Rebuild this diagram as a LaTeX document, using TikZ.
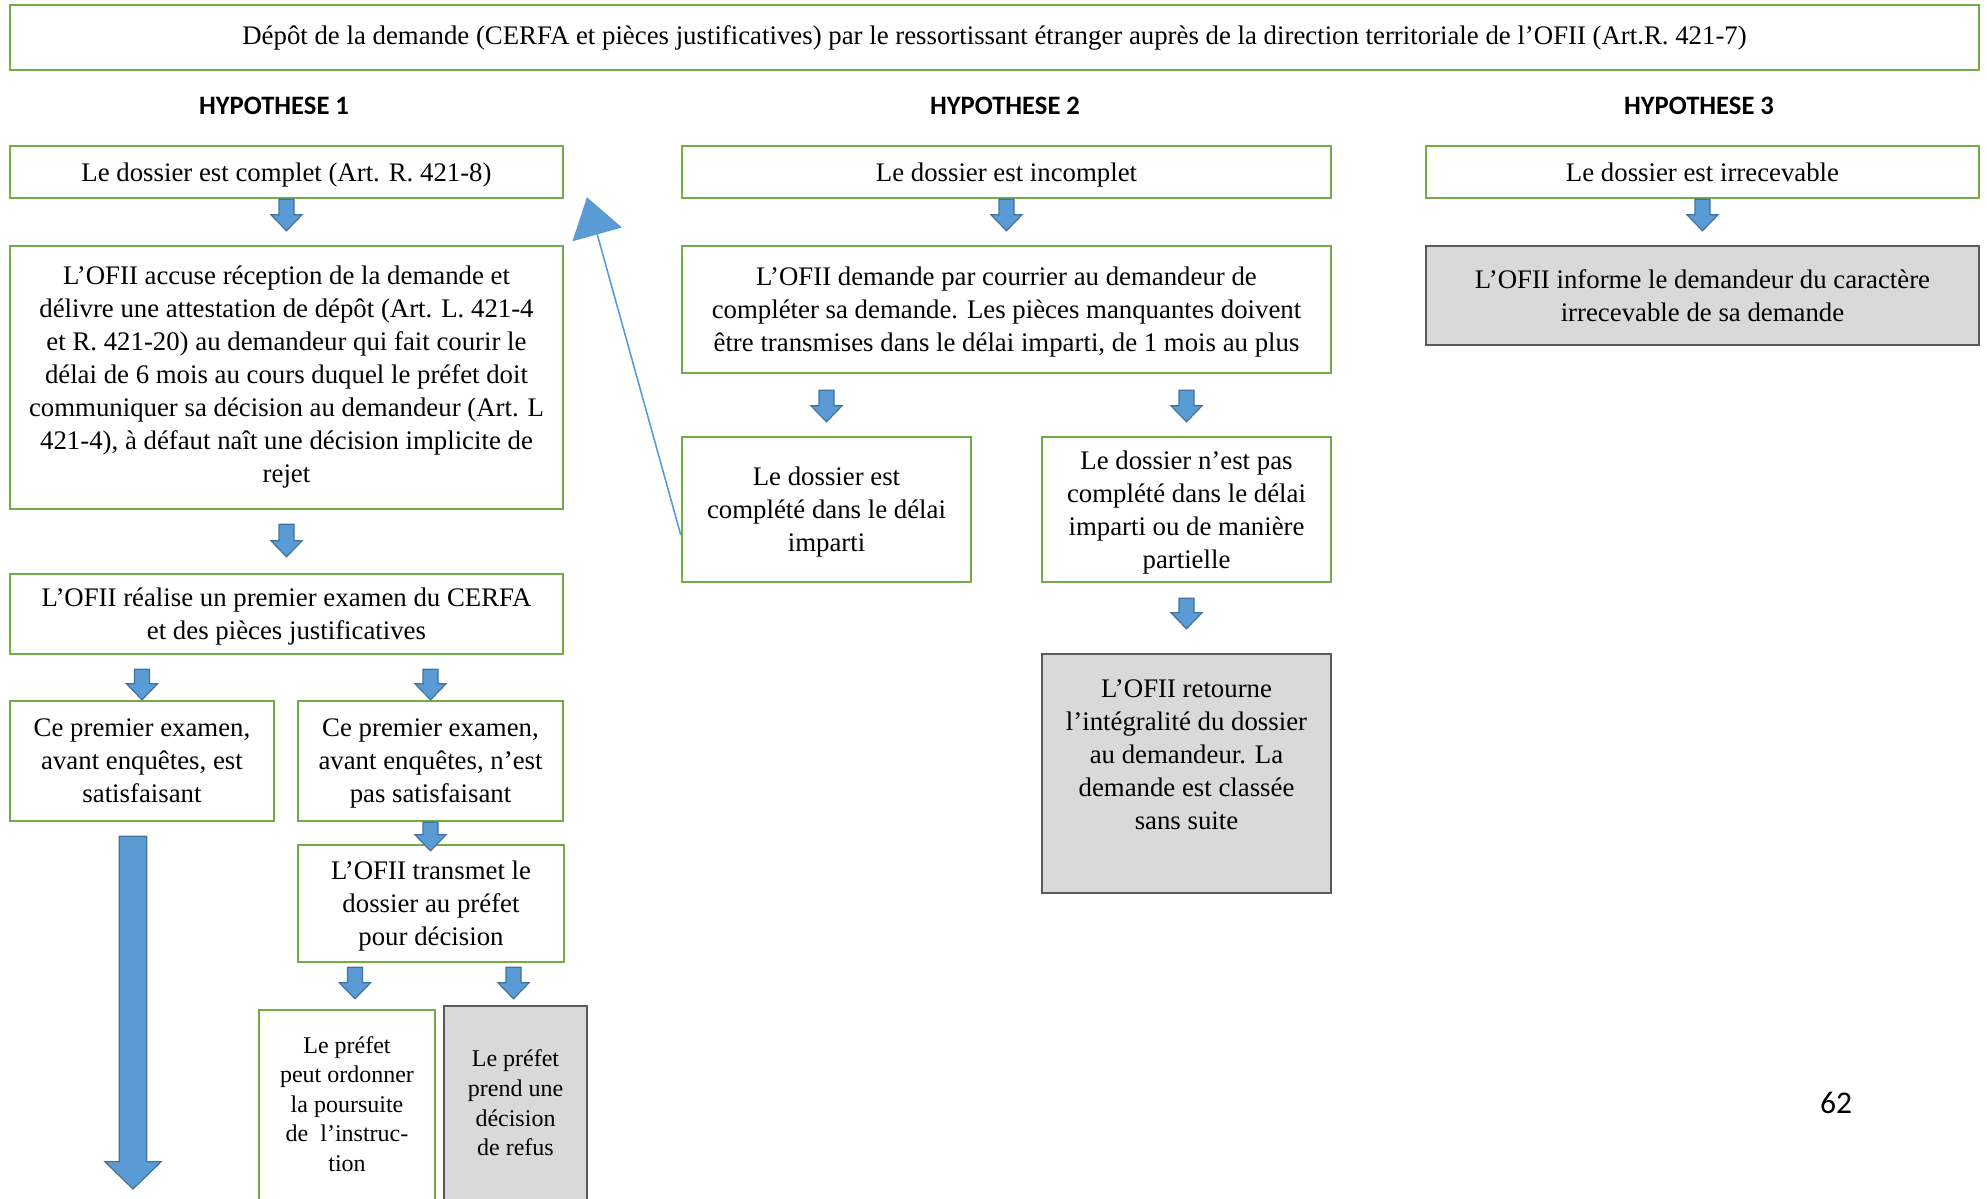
\documentclass[tikz,border=0pt]{standalone}
\usepackage{fontspec}
\setmainfont{Liberation Serif}
\newfontfamily\calibri{Carlito}
\usepackage{tikz}
\usetikzlibrary{calc,arrows.meta,positioning}
\definecolor{vert}{HTML}{70AD47}
\definecolor{grisfond}{HTML}{D9D9D9}
\definecolor{grisbord}{HTML}{595959}
\definecolor{bleu}{HTML}{5B9BD5}
\definecolor{bleufonce}{HTML}{41719C}
\pgfdeclarelayer{edgelayer}
\pgfdeclarelayer{nodelayer}
\pgfsetlayers{nodelayer,edgelayer,main}
\tikzset{
	bloc/.style n args={3}{draw=bleufonce, fill=bleu, line width=0.6pt,
		to path={let \p1=(\tikztostart), \p2=(\tikztotarget) in
			(\x1-#1,\y1) -- (\x1-#1,\y2+#3) -- (\x1-#2,\y2+#3) -- (\x1,\y2)
			-- (\x1+#2,\y2+#3) -- (\x1+#1,\y2+#3) -- (\x1+#1,\y1) -- cycle}},
}
\tikzstyle{none}=[inner sep=0pt]
\tikzstyle{texte}=[align=center, inner sep=0pt, font=\fontsize{13.4}{16.5}\selectfont]
\tikzstyle{petit}=[align=center, inner sep=0pt, font=\fontsize{12}{14.8}\selectfont]
\tikzstyle{cale}=[text depth=0pt]
\tikzstyle{cadre}=[rectangle, draw=vert, line width=1.2pt, fill=white, texte]
\tikzstyle{boite}=[cadre, cale]
\tikzstyle{grise}=[rectangle, draw=grisbord, line width=1.2pt, fill=grisfond, texte]
\tikzstyle{titre}=[inner sep=0pt, font=\calibri\bfseries\fontsize{13.3}{16}\selectfont]
\tikzstyle{page}=[inner sep=0pt, font=\calibri\fontsize{15.8}{18}\selectfont]
\tikzstyle{fleche}=[bloc={3.75pt}{7.75pt}{8pt}]
\tikzstyle{grandefleche}=[bloc={6.9pt}{14.1pt}{13.7pt}]
\tikzstyle{retour}=[draw=bleu, line width=0.8pt, -{Triangle[width=25.5pt,length=19.3pt]}]

\begin{document}
\begin{tikzpicture}[x=0.5pt, y=-0.5pt]
	\useasboundingbox (0, 0) rectangle (1987, 1199);
	\begin{pgfonlayer}{nodelayer}
		\node [style=cadre, minimum width=984.5pt, minimum height=32.5pt] (depot) at (994.5, 37.5) {Dépôt de la demande (CERFA et pièces justificatives) par le ressortissant étranger auprès de la direction territoriale de l’OFII (Art.R. 421-7)};
		\node [style=titre] (h1) at (274, 106) {HYPOTHESE 1};
		\node [style=titre] (h2) at (1005, 106) {HYPOTHESE 2};
		\node [style=titre] (h3) at (1699, 106) {HYPOTHESE 3};
		\node [style=boite, minimum width=276.5pt, minimum height=26pt] (complet) at (286.5, 172) {Le dossier est complet (Art. R. 421-8)};
		\node [style=boite, minimum width=324.5pt, minimum height=26pt] (incomplet) at (1006.5, 172) {Le dossier est incomplet};
		\node [style=cadre, minimum width=276.5pt, minimum height=26pt] (irrecevable) at (1702.5, 172) {Le dossier est irrecevable};
		\node [style=cadre, minimum width=276.5pt, minimum height=131.5pt] (accuse) at (286.5, 377.5) {L’OFII accuse réception de la demande et\\délivre une attestation de dépôt (Art. L. 421-4\\et R. 421-20) au demandeur qui fait courir le\\délai de 6 mois au cours duquel le préfet doit\\communiquer sa décision au demandeur (Art. L\\421-4), à défaut naît une décision implicite de\\rejet};
		\node [style=boite, minimum width=276.5pt, minimum height=40pt] (examen) at (286.5, 614) {L’OFII réalise un premier examen du CERFA\\et des pièces justificatives};
		\node [style=boite, minimum width=132pt, minimum height=60pt] (satisf) at (142, 761) {Ce premier examen,\\avant enquêtes, est\\satisfaisant};
		\node [style=boite, minimum width=132.5pt, minimum height=60pt] (passatisf) at (430.5, 761) {Ce premier examen,\\avant enquêtes, n’est\\pas satisfaisant};
		\node [style=boite, minimum width=133pt, minimum height=58.5pt] (transmet) at (431, 903.5) {L’OFII transmet le\\dossier au préfet\\pour décision};
		\node [style=cadre, minimum width=88pt, minimum height=115pt] (ordonner) at (347, 1125) {};
		\node [style=petit] (ordonnertxt) at (347, 1104) {Le préfet\\peut ordonner\\la poursuite\\de~~l’instruc-\\tion};
		\node [style=grise, minimum width=71.5pt, minimum height=117pt] (refus) at (515.5, 1123) {};
		\node [style=petit] (refustxt) at (515.5, 1103) {Le préfet\\prend une\\décision\\de refus};
		\node [style=boite, minimum width=324.5pt, minimum height=63.5pt] (courrier) at (1006.5, 309.5) {L’OFII demande par courrier au demandeur de\\compléter sa demande. Les pièces manquantes doivent\\être transmises dans le délai imparti, de 1 mois au plus};
		\node [style=boite, minimum width=144.5pt, minimum height=72.5pt] (complete) at (826.5, 509.5) {Le dossier est\\complété dans le délai\\imparti};
		\node [style=boite, minimum width=144.5pt, minimum height=72.5pt] (noncomplete) at (1186.5, 509.5) {Le dossier n’est pas\\complété dans le délai\\imparti ou de manière\\partielle};
		\node [style=grise, minimum width=144.5pt, minimum height=119.5pt] (retourne) at (1186.5, 773.5) {};
		\node [style=texte] (retournetxt) at (1186.5, 754.6) {L’OFII retourne\\l’intégralité du dossier\\au demandeur. La\\demande est classée\\sans suite};
		\node [style=grise, minimum width=276.5pt, minimum height=49.5pt] (informe) at (1702.5, 295.5) {L’OFII informe le demandeur du caractère\\irrecevable de sa demande};
		\node [style=page] (numero) at (1836, 1103) {62};
		\coordinate (fin) at (133, 1189);
	\end{pgfonlayer}
	\begin{pgfonlayer}{edgelayer}
		\draw [style=fleche] (complet.south) to ($(accuse.north)+(0,-14)$);
		\draw [style=fleche] ($(accuse.south)+(0,14)$) to ($(examen.north)+(0,-16)$);
		\draw [style=fleche] ($(examen.south -| satisf.north)+(0,14)$) to (satisf.north);
		\draw [style=fleche] ($(examen.south -| passatisf.north)+(0,14)$) to (passatisf.north);
		\draw [style=fleche] (passatisf.south) to ($(transmet.north)+(0,7)$);
		\draw [style=fleche] ($(transmet.south -| ordonner.north)+(8,4)$) to ($(ordonner.north)+(8,-10)$);
		\draw [style=fleche] ($(transmet.south -| refus.north)+(-2,4)$) to ($(refus.north)+(-2,-6)$);
		\draw [style=grandefleche] ($(satisf.south)+(-9,14)$) to (fin);
		\draw [style=fleche] (incomplet.south) to ($(courrier.north)+(0,-14)$);
		\draw [style=fleche] ($(courrier.south -| complete.north)+(0,16)$) to ($(complete.north)+(0,-14)$);
		\draw [style=fleche] ($(courrier.south -| noncomplete.north)+(0,16)$) to ($(noncomplete.north)+(0,-14)$);
		\draw [style=fleche] ($(noncomplete.south)+(0,15)$) to ($(retourne.north)+(0,-24)$);
		\draw [style=fleche] (irrecevable.south) to ($(informe.north)+(0,-14)$);
		\draw [style=retour] ($(complete.west)+(0,25.5)$) to ($(complet.south east)+(22.7,-2)$);
	\end{pgfonlayer}
\end{tikzpicture}
\end{document}
